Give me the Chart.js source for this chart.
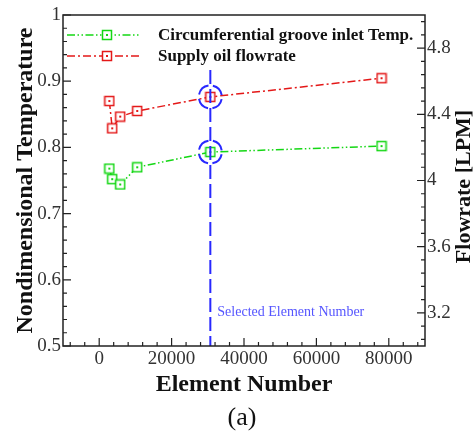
<!DOCTYPE html>
<html>
<head>
<meta charset="utf-8">
<script src="https://cdn.jsdelivr.net/npm/chart.js@4.4.1/dist/chart.umd.min.js"></script>
<style>
  body { margin: 0; background: #fff; }
  #wrap { width: 473px; height: 433px; }
</style>
</head>
<body>
<div id="wrap"><canvas id="chart"></canvas></div>
<script>
// mesh study values
const elementNumbers = [2800, 3600, 5800, 10500, 30700, 78000];
const grooveTemp = [0.768, 0.752, 0.744, 0.770, 0.793, 0.802];
const oilFlowrate = [4.48, 4.315, 4.386, 4.42, 4.505, 4.618];
const selectedElement = 30700;

const xTicks = [0, 20000, 40000, 60000, 80000];
const tempTicks = [0.5, 0.6, 0.7, 0.8, 0.9, 1];
const flowTicks = [3.2, 3.6, 4, 4.4, 4.8];

const SERIF = '"Liberation Serif", "Times New Roman", serif';
const GREEN = 'rgb(20, 215, 20)';
const RED = 'rgb(228, 24, 24)';
const BLUE = 'rgb(40, 40, 255)';

Chart.defaults.font.family = SERIF;
Chart.defaults.color = '#333';

// hollow square marker with a small centre dot
function makeMarker(color) {
  const c = document.createElement('canvas');
  c.width = 12;
  c.height = 12;
  const g = c.getContext('2d');
  g.fillStyle = '#fff';
  g.fillRect(1.5, 1.5, 9, 9);
  g.strokeStyle = color;
  g.lineWidth = 1.5;
  g.strokeRect(1.5, 1.5, 9, 9);
  g.fillStyle = color;
  g.fillRect(5, 5, 2, 2);
  return c;
}

const toPoints = (ys) => elementNumbers.map((x, i) => ({ x: x, y: ys[i] }));

const frameAndTicks = {
  id: 'frameAndTicks',
  afterDraw(chart) {
    const { ctx, chartArea: a } = chart;
    ctx.save();
    ctx.strokeStyle = '#222';
    ctx.lineWidth = 1.5;
    ctx.strokeRect(a.left, a.top, a.right - a.left, a.bottom - a.top);
    ctx.lineWidth = 1.2;

    const tickSet = (scale, majors) => {
      const step = (majors[1] - majors[0]) / 5;
      const out = [];
      let v = majors[0];
      while (v - step >= scale.min - 1e-9) v -= step;
      for (; v <= scale.max + 1e-9; v += step) {
        const isMajor = majors.some(m => Math.abs(m - v) < step / 10);
        out.push({ v: v, major: isMajor });
      }
      return out;
    };

    ctx.beginPath();
    tickSet(chart.scales.x, xTicks).forEach(t => {
      const px = chart.scales.x.getPixelForValue(t.v);
      ctx.moveTo(px, a.bottom);
      ctx.lineTo(px, a.bottom - (t.major ? 8 : 4));
    });
    tickSet(chart.scales.y, tempTicks).forEach(t => {
      const py = chart.scales.y.getPixelForValue(t.v);
      ctx.moveTo(a.left, py);
      ctx.lineTo(a.left + (t.major ? 8 : 4), py);
    });
    tickSet(chart.scales.y2, flowTicks).forEach(t => {
      const py = chart.scales.y2.getPixelForValue(t.v);
      ctx.moveTo(a.right, py);
      ctx.lineTo(a.right - (t.major ? 8 : 4), py);
    });
    ctx.stroke();

    // right axis title reads bottom to top like the left one
    ctx.translate(464, (a.top + a.bottom) / 2 + 6);
    ctx.rotate(-Math.PI / 2);
    ctx.font = 'bold 22px ' + SERIF;
    ctx.fillStyle = '#111';
    ctx.textAlign = 'center';
    ctx.textBaseline = 'middle';
    ctx.fillText('Flowrate [LPM]', 0, 0);
    ctx.restore();

    ctx.save();
    ctx.font = '26px ' + SERIF;
    ctx.fillStyle = '#111';
    ctx.textAlign = 'center';
    ctx.textBaseline = 'middle';
    ctx.fillText('(a)', 242, 418);
    ctx.restore();
  }
};

const selection = {
  id: 'selection',
  afterDatasetsDraw(chart) {
    const { ctx, chartArea: a } = chart;
    const px = chart.scales.x.getPixelForValue(selectedElement);
    ctx.save();
    ctx.strokeStyle = BLUE;
    ctx.lineWidth = 2;
    ctx.setLineDash([14, 5]);
    ctx.beginPath();
    ctx.moveTo(px, a.top + 55);
    ctx.lineTo(px, a.bottom);
    ctx.stroke();

    // dashed rings round the selected points
    const r = 11.5;
    const gap = 4.5;
    const dash = (2 * Math.PI * r) / 4 - gap;
    ctx.setLineDash([dash, gap]);
    ctx.lineDashOffset = dash + gap / 2;
    const idx = elementNumbers.indexOf(selectedElement);
    [['y', grooveTemp], ['y2', oilFlowrate]].forEach(([id, vals]) => {
      const py = chart.scales[id].getPixelForValue(vals[idx]);
      ctx.beginPath();
      ctx.arc(px, py, r, 0, Math.PI * 2);
      ctx.stroke();
    });

    ctx.setLineDash([]);
    ctx.font = '14px ' + SERIF;
    ctx.fillStyle = 'rgb(85, 85, 255)';
    ctx.textBaseline = 'middle';
    ctx.fillText('Selected Element Number', px + 7, 312);
    ctx.restore();
  }
};

const insideLegend = {
  id: 'insideLegend',
  afterDatasetsDraw(chart) {
    const { ctx } = chart;
    ctx.save();
    chart.data.datasets.forEach((ds, i) => {
      const y = 35 + i * 21;
      ctx.strokeStyle = ds.borderColor;
      ctx.lineWidth = ds.borderWidth;
      ctx.setLineDash(ds.borderDash);
      ctx.beginPath();
      ctx.moveTo(67, y);
      ctx.lineTo(141, y);
      ctx.stroke();
      ctx.drawImage(ds.pointStyle, 107 - 6, y - 6);
      ctx.setLineDash([]);
      ctx.font = 'bold 17px ' + SERIF;
      ctx.fillStyle = '#111';
      ctx.textBaseline = 'middle';
      ctx.fillText(ds.label, 158, y + 1);
    });
    ctx.restore();
  }
};

new Chart(document.getElementById('chart'), {
  type: 'line',
  data: {
    datasets: [
      {
        label: 'Circumferential groove inlet Temp.',
        data: toPoints(grooveTemp),
        yAxisID: 'y',
        borderColor: GREEN,
        borderWidth: 1.5,
        borderDash: [8, 2.5, 1.5, 2.5, 1.5, 2.5],
        pointStyle: makeMarker(GREEN),
        tension: 0
      },
      {
        label: 'Supply oil flowrate',
        data: toPoints(oilFlowrate),
        yAxisID: 'y2',
        borderColor: RED,
        borderWidth: 1.5,
        borderDash: [8, 3, 2, 3],
        pointStyle: makeMarker(RED),
        tension: 0
      }
    ]
  },
  options: {
    responsive: true,
    maintainAspectRatio: false,
    animation: false,
    layout: { padding: { top: 15, left: 0, right: 0, bottom: 0 } },
    plugins: { legend: { display: false }, tooltip: { enabled: false } },
    scales: {
      x: {
        type: 'linear',
        position: 'bottom',
        min: -10000,
        max: 90000,
        grid: { display: false, drawTicks: false },
        border: { display: false },
        afterBuildTicks: s => { s.ticks = xTicks.map(v => ({ value: v })); },
        afterFit: s => { s.height = 87; },
        ticks: { padding: 2, font: { size: 19 }, color: '#333', maxRotation: 0, callback: v => String(v) },
        title: {
          display: true,
          text: 'Element Number',
          color: '#111',
          font: { size: 24, weight: 'bold' },
          padding: { top: 0, bottom: 34 }
        }
      },
      y: {
        position: 'left',
        min: 0.5,
        max: 1,
        grid: { display: false, drawTicks: false },
        border: { display: false },
        afterBuildTicks: s => { s.ticks = tempTicks.map(v => ({ value: v })); },
        afterFit: s => { s.width = 63; },
        ticks: { padding: 2, font: { size: 19 }, color: '#333', callback: v => String(v) },
        title: {
          display: true,
          text: 'Nondimensional Temperature',
          color: '#111',
          font: { size: 24, weight: 'bold' },
          padding: { top: 11, bottom: 0 }
        }
      },
      y2: {
        position: 'right',
        min: 3,
        max: 5,
        grid: { display: false, drawTicks: false },
        border: { display: false },
        afterBuildTicks: s => { s.ticks = flowTicks.map(v => ({ value: v })); },
        afterFit: s => { s.width = 48; },
        ticks: { padding: 2, font: { size: 19 }, color: '#333', callback: v => String(v) }
      }
    }
  },
  plugins: [frameAndTicks, selection, insideLegend]
});
</script>
</body>
</html>
